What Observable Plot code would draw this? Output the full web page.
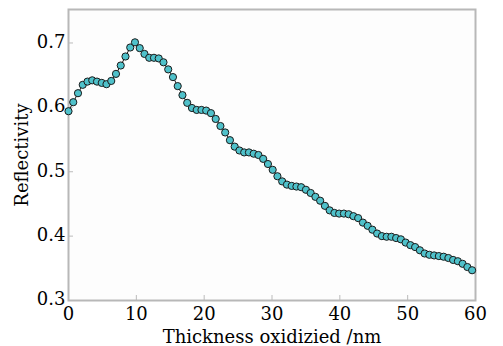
<!DOCTYPE html>
<html>
<head>
<meta charset="utf-8">
<script src="https://cdn.jsdelivr.net/npm/d3@7"></script>
<script src="https://cdn.jsdelivr.net/npm/@observablehq/plot@0.6"></script>
<style>
  html, body { margin: 0; padding: 0; background: #ffffff; }
</style>
</head>
<body>
<div id="chart"></div>
<script>
// Thickness oxidized (nm), sampled every 0.7 nm
const thickness = d3.range(0, 86).map(i => +(i * 0.7).toFixed(1));
const reflectivity = [
  0.594, 0.608, 0.622, 0.635, 0.640, 0.642, 0.640, 0.638, 0.636, 0.641,
  0.652, 0.665, 0.679, 0.693, 0.701, 0.692, 0.683, 0.677, 0.677, 0.676,
  0.670, 0.659, 0.647, 0.633, 0.619, 0.607, 0.599, 0.596, 0.596, 0.595,
  0.591, 0.582, 0.571, 0.561, 0.549, 0.539, 0.533, 0.530, 0.530, 0.528,
  0.526, 0.520, 0.512, 0.503, 0.493, 0.485, 0.480, 0.478, 0.477, 0.476,
  0.472, 0.467, 0.461, 0.455, 0.447, 0.440, 0.436, 0.435, 0.435, 0.434,
  0.431, 0.428, 0.421, 0.416, 0.410, 0.404, 0.400, 0.399, 0.399, 0.397,
  0.395, 0.390, 0.386, 0.383, 0.378, 0.373, 0.371, 0.370, 0.369, 0.368,
  0.366, 0.363, 0.361, 0.357, 0.352, 0.347
];
const xTicks = [0, 10, 20, 30, 40, 50, 60];
const yTicks = [0.3, 0.4, 0.5, 0.6, 0.7];
const xLabel = "Thickness oxidizied /nm";
const yLabel = "Reflectivity";

const data = thickness.map((t, i) => ({t, r: reflectivity[i]}));

const chart = Plot.plot({
  width: 503,
  height: 346,
  marginLeft: 68,
  marginRight: 28,
  marginTop: 9,
  marginBottom: 46,
  style: {fontFamily: "DejaVu Serif", fontSize: "18px", background: "#ffffff", color: "#000"},
  x: {domain: [0, 60]},
  y: {domain: [0.3, 0.752]},
  marks: [
    Plot.rect([0], {x1: 0, x2: 60, y1: 0.3, y2: 0.752, fill: "#fdfdfd"}),
    Plot.axisX(xTicks, {tickSize: -5, stroke: "#bbb", text: null, label: null}),
    Plot.axisY(yTicks, {tickSize: -5, stroke: "#bbb", text: null, label: null}),
    Plot.axisX(xTicks, {tickSize: 0, tickPadding: 7, fill: "#000", label: xLabel, labelAnchor: "center", labelArrow: "none", labelOffset: 42}),
    Plot.axisY(yTicks, {tickSize: 0, tickPadding: 3, dy: -1, fill: "#000", tickFormat: d3.format(".1f"), label: yLabel, labelAnchor: "center", labelArrow: "none", labelOffset: 53}),
    Plot.frame({stroke: "#b8b8b8", strokeWidth: 2}),
    Plot.line(data, {x: "t", y: "r", stroke: "#111", strokeWidth: 1}),
    Plot.dot(data, {x: "t", y: "r", r: 3.6, fill: "#4fc1ca", stroke: "#1a1a1a", strokeWidth: 1})
  ]
});
document.getElementById("chart").appendChild(chart);
</script>
</body>
</html>
